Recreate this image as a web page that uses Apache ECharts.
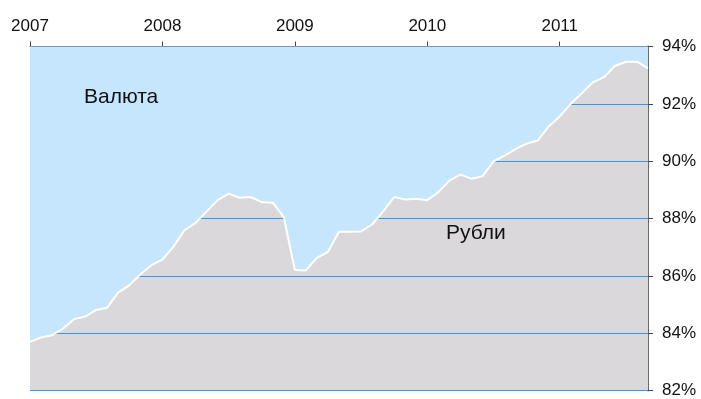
<!DOCTYPE html>
<html>
<head>
<meta charset="utf-8">
<script src="https://cdn.jsdelivr.net/npm/echarts@6/dist/echarts.min.js"></script>
<style>
  html, body { margin: 0; padding: 0; background: #fff; }
  #chart { width: 701px; height: 399px; }
</style>
</head>
<body>
<div id="chart"></div>
<script>
// Year labels on the top axis
const years = ['2007', '2008', '2009', '2010', '2011'];

// Monthly share of ruble deposits, % (Jan 2007 – Sep 2011)
const rubleShare = [
  83.70, 83.85, 83.93, 84.16, 84.49, 84.58, 84.81, 84.89, 85.42, 85.67, 86.05, 86.37,
  86.57, 87.02, 87.59, 87.85, 88.24, 88.64, 88.87, 88.72, 88.75, 88.57, 88.55, 88.05,
  86.20, 86.19, 86.63, 86.84, 87.54, 87.54, 87.55, 87.79, 88.25, 88.75, 88.66, 88.69,
  88.64, 88.92, 89.32, 89.53, 89.39, 89.47, 89.99, 90.19, 90.42, 90.61, 90.72, 91.21,
  91.56, 92.00, 92.37, 92.75, 92.93, 93.32, 93.47, 93.47, 93.24
];

// Horizontal reference levels, %
const gridLevels = [82, 84, 86, 88, 90, 92];

// Month categories: "YYYY-MM"
const months = [];
for (let i = 0; i < rubleShare.length; i++) {
  const y = Number(years[0]) + Math.floor(i / 12);
  const m = (i % 12) + 1;
  months.push(y + '-' + (m < 10 ? '0' + m : m));
}

const font = 'Liberation Sans, Arial, Helvetica, sans-serif';
const isJanuary = (idx) => idx % 12 === 0;

const chart = echarts.init(document.getElementById('chart'), null, { renderer: 'canvas' });

chart.setOption({
  animation: false,
  backgroundColor: '#ffffff',
  grid: { left: 30, right: 53, top: 46.5, bottom: 7.5, containLabel: false },
  xAxis: {
    type: 'category',
    position: 'top',
    boundaryGap: false,
    data: months,
    axisLine: { show: true, lineStyle: { color: '#444', width: 1 } },
    axisTick: { show: true, interval: isJanuary, length: 5, lineStyle: { color: '#444' } },
    axisLabel: {
      show: true,
      interval: isJanuary,
      formatter: (v) => v.slice(0, 4),
      color: '#111',
      fontFamily: font,
      fontSize: 17,
      margin: 12
    },
    splitLine: { show: false }
  },
  yAxis: {
    type: 'value',
    position: 'right',
    min: 82,
    max: 94,
    interval: 2,
    axisLine: { show: true, lineStyle: { color: '#6a6a6a', width: 2 } },
    axisTick: { show: true, length: 5, lineStyle: { color: '#444' } },
    axisLabel: {
      formatter: '{value}%',
      color: '#111',
      fontFamily: font,
      fontSize: 17,
      margin: 14
    },
    splitLine: { show: false }
  },
  series: [
    {
      // ruble share filled down to the axis floor, with reference lines over it
      name: 'Рубли',
      type: 'line',
      data: rubleShare,
      symbol: 'none',
      z: 1,
      lineStyle: { width: 0 },
      areaStyle: { color: '#dad8db', opacity: 1, origin: 'start' },
      markLine: {
        z: 2,
        silent: true,
        symbol: 'none',
        label: { show: false },
        lineStyle: { color: '#2d9cf0', width: 1, type: 'solid' },
        data: gridLevels.map((v) => ({ yAxis: v }))
      }
    },
    {
      // foreign-currency share: the band from the line up to the top
      name: 'Валюта',
      type: 'line',
      data: rubleShare,
      symbol: 'none',
      z: 3,
      lineStyle: { color: '#ffffff', width: 2 },
      areaStyle: { color: '#c5e6fc', opacity: 1, origin: 'end' }
    }
  ],
  graphic: [
    {
      type: 'text', left: 84, top: 87, z: 10,
      style: { text: 'Валюта', fill: '#111', font: '21px ' + font }
    },
    {
      type: 'text', left: 446, top: 223, z: 10,
      style: { text: 'Рубли', fill: '#111', font: '21px ' + font }
    }
  ]
});
</script>
</body>
</html>
